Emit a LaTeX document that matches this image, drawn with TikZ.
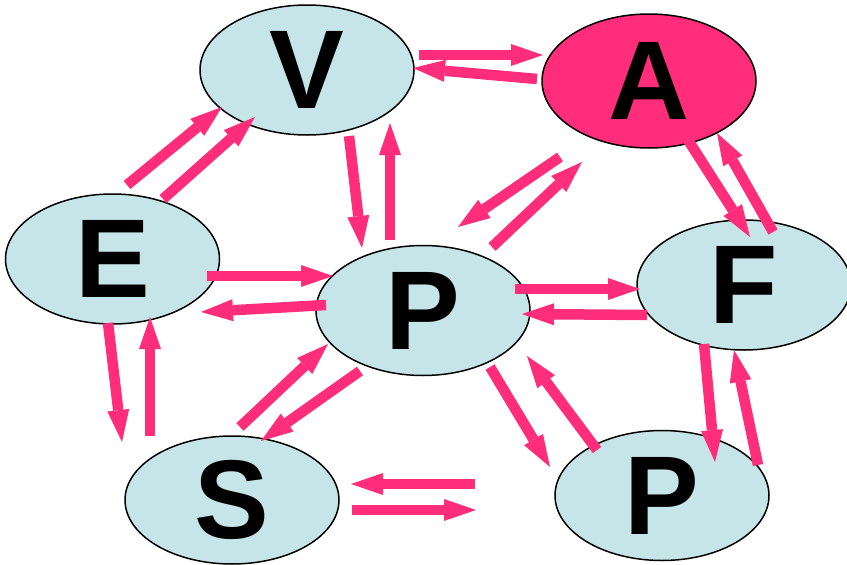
\documentclass[tikz,border=0pt]{standalone}
\usepackage{fontspec}
\setmainfont{Liberation Sans}
\usetikzlibrary{shapes.geometric,arrows.meta}
\definecolor{pinkA}{RGB}{255,45,122}
\definecolor{ebg}{RGB}{197,229,232}
\tikzset{
  oval/.style={ellipse, draw=black, line width=1.5pt, fill=ebg, minimum width=214pt, minimum height=130pt, inner sep=0pt,
    font=\fontsize{112}{112}\selectfont\bfseries},
  blk/.style={draw=pinkA, line width=10.5pt,
    -{Triangle[width=22pt,length=32pt,line width=0pt]}}
}
\begin{document}
\begin{tikzpicture}[x=1pt,y=-1pt]
\useasboundingbox (0,0) rectangle (847,565);
\node[oval] (V) at (307,70) {V};
\node[oval, fill=pinkA, minimum height=134pt] (A) at (649,81) {A};
\node[oval] (E) at (112.5,259) {E};
\node[oval] (P) at (423,310.5) {P};
\node[oval] (F) at (744,285) {F};
\node[oval, minimum height=128pt] (S) at (232,500) {S};
\node[oval] (Q) at (662,495.5) {P};
\foreach \n/\sx/\sy/\ex/\ey in {
  1/419/55/543/55,
  2/537/79/413/68,
  3/127/185/222/107,
  4/163/199/255/117,
  5/207/276/333/276,
  6/326/305/201/312,
  7/688/140/750/237,
  8/773/232/717/133,
  9/475/484/351/484,
  10/352/510/476/510,
  11/349/136/362/248,
  12/390/240/390/123,
  13/560/157/458/227,
  14/492/247/582/162,
  15/515/289/640/289,
  16/647/315/522/314,
  17/108/323/122/442,
  18/150/436/150/317,
  19/240/427/328/344,
  20/360/371/261/441,
  21/490/367/550/467,
  22/597/450/527/356,
  23/704/344/715/462,
  24/758/465/734/350}{
  \coordinate (s\n) at (\sx,\sy);
  \coordinate (e\n) at (\ex,\ey);
  \draw[blk] (s\n) -- (e\n);
}
\end{tikzpicture}
\end{document}
